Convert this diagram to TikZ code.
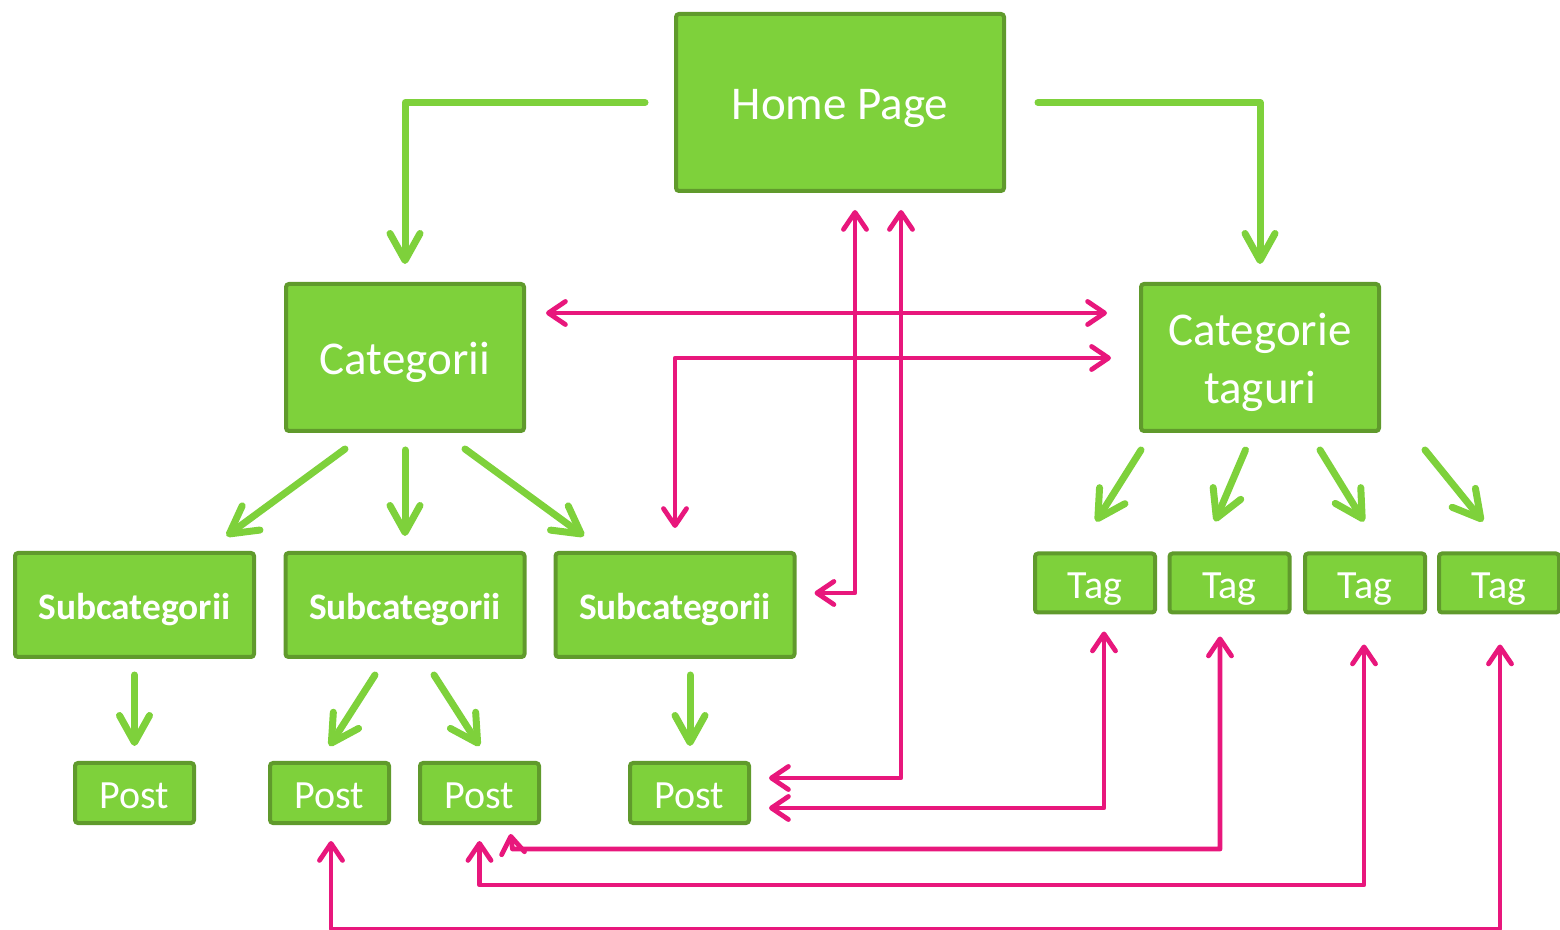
\documentclass[tikz,border=0pt]{standalone}
\usepackage{fontspec}
\setmainfont{Carlito}
\usetikzlibrary{arrows.meta,calc}

\definecolor{boxfill}{RGB}{126,209,59}
\definecolor{boxline}{RGB}{96,154,44}
\definecolor{linkpink}{RGB}{232,23,124}

\tikzset{
  box/.style={draw=boxline, fill=boxfill, line width=2pt, rounded corners=1.5pt,
              text=white, inner sep=0pt, align=center},
  bigtext/.style={font=\fontsize{23.5pt}{29pt}\selectfont},
  captext/.style={text height=16.8pt, text depth=0pt},
  subtext/.style={font=\fontsize{18.7pt}{22pt}\selectfont\bfseries, text height=15pt, text depth=0pt},
  leaftext/.style={font=\fontsize{20pt}{24pt}\selectfont, text height=15.6pt, text depth=0pt},
  garrow/.style={draw=boxfill, line width=3.5pt, line cap=round, line join=round,
                 -{Straight Barb[length=13.5pt, width=15pt, line cap=round, line join=round]}},
  pbarb/.style={Straight Barb[length=8.5pt, width=11.5pt, line cap=round, line join=round]},
  parrow/.style={draw=linkpink, line width=2.4pt, line cap=round, line join=round,
                 {Straight Barb[length=8.5pt, width=11.5pt, line cap=round, line join=round]}-{Straight Barb[length=8.5pt, width=11.5pt, line cap=round, line join=round]}},
}

\begin{document}
\begin{tikzpicture}[x=0.5pt, y=-0.5pt]
  \useasboundingbox (0,0) rectangle (1560,930);

  % top level
  \node[box, bigtext, captext, minimum width=164pt, minimum height=88.5pt] (HP) at (840,102.5) {Home Page};

  % second level
  \node[box, bigtext, captext, minimum width=119pt, minimum height=73.5pt] (Cat) at (405,357.5) {Categorii};
  \node[box, minimum width=119pt, minimum height=73.5pt] (CT) at (1260,357.5) {};
  \node[bigtext, text=white, align=center, inner sep=0pt] (CTlabel) at ($(CT.center)+(0,5)$) {Categorie\\taguri};

  % subcategories
  \node[box, subtext, minimum width=119.5pt, minimum height=52pt] (Sub1) at (134.5,605) {Subcategorii};
  \node[box, subtext, minimum width=119.5pt, minimum height=52pt] (Sub2) at (405,605) {Subcategorii};
  \node[box, subtext, minimum width=119.5pt, minimum height=52pt] (Sub3) at (675,605) {Subcategorii};

  % tags
  \node[box, leaftext, minimum width=60pt, minimum height=29.5pt] (Tag1) at (1095,583) {Tag};
  \node[box, leaftext, minimum width=60pt, minimum height=29.5pt] (Tag2) at (1229.5,583) {Tag};
  \node[box, leaftext, minimum width=60pt, minimum height=29.5pt] (Tag3) at (1365,583) {Tag};
  \node[box, leaftext, minimum width=60pt, minimum height=29.5pt] (Tag4) at (1499,583) {Tag};

  % posts
  \node[box, leaftext, minimum width=59.5pt, minimum height=30pt] (Post1) at (134.5,793) {Post};
  \node[box, leaftext, minimum width=59.5pt, minimum height=30pt] (Post2) at (329.5,793) {Post};
  \node[box, leaftext, minimum width=59.5pt, minimum height=30pt] (Post3) at (479.5,793) {Post};
  \node[box, leaftext, minimum width=59.5pt, minimum height=30pt] (Post4) at (689.5,793) {Post};

  % hierarchy (green)
  \draw[garrow] ($(HP.west)+(-29,0)$) -| ($(Cat.north)+(0,-18)$);
  \draw[garrow] ($(HP.east)+(32,0)$) -| ($(CT.north)+(0,-18)$);

  \draw[garrow] ($(Cat.south)+(-60,16)$) -- ($(Sub1.north)+(92,-15)$);
  \draw[garrow] ($(Cat.south)+(0,17)$) -- ($(Sub2.north)+(0,-15)$);
  \draw[garrow] ($(Cat.south)+(60,16)$) -- ($(Sub3.north)+(-91,-15)$);

  \draw[garrow] ($(CT.south)+(-119,17)$) -- ($(Tag1.north)+(1,-30)$);
  \draw[garrow] ($(CT.south)+(-14.5,17)$) -- ($(Tag2.north)+(-14.5,-30)$);
  \draw[garrow] ($(CT.south)+(60,17)$) -- ($(Tag3.north)+(-1,-30)$);
  \draw[garrow] ($(CT.south)+(165,17)$) -- ($(Tag4.north)+(-16,-30)$);

  \draw[garrow] ($(Sub1.south)+(0,16)$) -- ($(Post1.north)+(0,-15)$);
  \draw[garrow] ($(Sub2.south)+(-30,16)$) -- ($(Post2.north)+(0,-15)$);
  \draw[garrow] ($(Sub2.south)+(29,16)$) -- ($(Post3.north)+(0,-15)$);
  \draw[garrow] ($(Sub3.south)+(15,16)$) -- ($(Post4.north)+(0.5,-15)$);

  % cross links (pink)
  \draw[parrow] ($(Cat.east)+(20,-44.5)$) -- ($(CT.west)+(-32,-44.5)$);
  \draw[parrow] ($(Sub3.north)+(0,-23)$) |- ($(CT.west)+(-28,0.5)$);
  \draw[parrow] ($(HP.south)+(15,17)$) |- ($(Sub3.east)+(18,-12)$);
  \draw[parrow] ($(HP.south)+(61,17)$) |- ($(Post4.east)+(18,-15)$);
  \draw[parrow] ($(Tag1.south)+(9,17)$) |- ($(Post4.east)+(18,15)$);
  \draw[parrow] ($(Tag2.south)+(-9.5,22)$) |- ($(Post3.south)+(33,24)$) -- ($(Post3.south)+(31,9)$);
  \draw[parrow] ($(Tag3.south)+(-1,30)$) |- ($(Post3.south)+(0,60)$) -- ($(Post3.south)+(0,16)$);
  \draw[parrow] ($(Tag4.south)+(1,30)$) |- ($(Post2.south)+(1.5,104)$) -- ($(Post2.south)+(1.5,16)$);
\end{tikzpicture}
\end{document}
